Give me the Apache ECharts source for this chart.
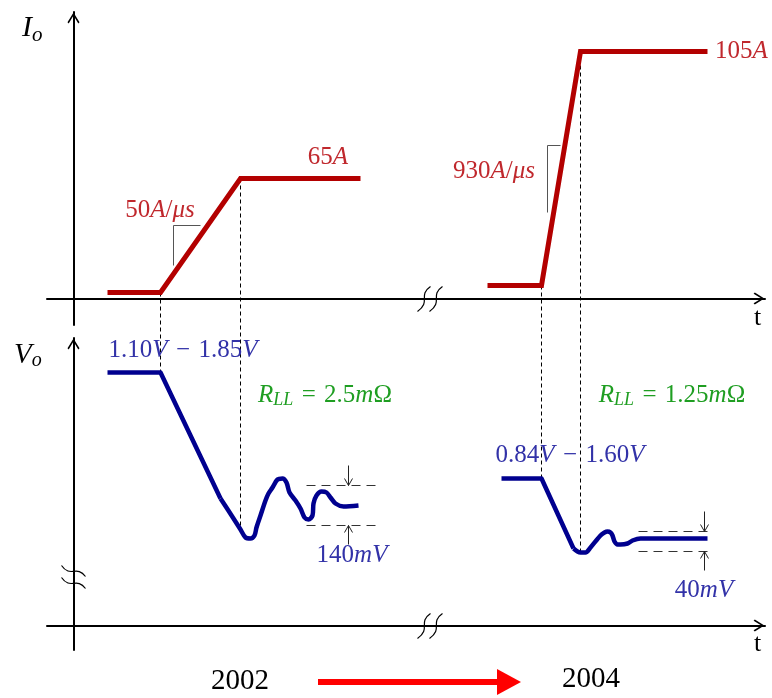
<!DOCTYPE html>
<html><head><meta charset="utf-8">
<script src="https://cdn.jsdelivr.net/npm/echarts@6/dist/echarts.min.js"></script>
<style>html,body{margin:0;padding:0;background:#fff}#c{width:772px;height:698px}</style>
</head><body><div id="c"></div>
<script>
// ---------- data (t = time units measured from the vertical axis; values in drawn scale units) ----------
const io2002T = [34, 87, 167, 287];
const io2002V = [6, 6, 120, 120];
const io2004T = [414, 468, 507, 634];
const io2004V = [13, 13, 247, 247];

const vo2002StepT = [34, 87, 147];
const vo2002StepV = [253, 253, 127];
const vo2002RingT = [147,160,167,172,177,181,183,187,192,195,199,204,209,213,216,222,227,231,235,239,240,243,248,253,257,262,270,285];
const vo2002RingV = [127,107,96,88,87,90,98,110,125,132,138,146,147,143,133,125,117,108,106,110,122,130,134,133,128,122,119,120];

const vo2004StepT = [428, 468, 500];
const vo2004StepV = [147, 147, 77];
const vo2004RingT = [500,504,507,512,517,527,531,534,537,539,541,544,547,554,559,567,580,634];
const vo2004RingV = [77,74,73,73,78,90,93,94,93,90,84,81,81,82,85,87,87,87];

const slope2002T = [127, 100, 100], slope2002V = [73, 73, 33];
const slope2004T = [487, 474, 474], slope2004V = [153, 153, 86];

const band2002T = [233, 307], band2002V = [140, 100];   // 140 mV band
const band2004T = [565, 640], band2004V = [94, 74];     // 40 mV band
const dimArrowT = [275, 631];

const connectorT = [87, 167, 468, 507];
const xBreakT = 357, yBreakV = 48;

const SP = ' \u200A';
const LBL = {
  i65: '{n|65}{i|A}', s50: '{n|50}{i|A}{n|/}{i|μs}', s930: '{n|930}{i|A}{n|/}{i|μs}', i105: '{n|105}{i|A}',
  v02: '{n|1.10}{i|V}{n|' + SP + '−' + SP + '1.85}{i|V}', r02: '{i|R}{s|LL}{n|' + SP + '=' + SP + '2.5}{i|m}{n|Ω}', d02: '{n|140}{i|mV}',
  v04: '{n|0.84}{i|V}{n|' + SP + '−' + SP + '1.60}{i|V}', r04: '{i|R}{s|LL}{n|' + SP + '=' + SP + '1.25}{i|m}{n|Ω}', d04: '{n|40}{i|mV}',
  io: '{i|I}{s|o}', vo: '{i|V}{s|o}', t: '{n|t}', y1: '{n|2002}', y2: '{n|2004}'
};

// ---------- layout ----------
const W = 772, H = 698;
const X_LEFT = 47, X_END = 765, AXIS_X = 73;
const TOP_Y0 = 12, TOP_Y1 = 325, TOP_AXIS = 298;
const BOT_Y0 = 338, BOT_Y1 = 650, BOT_AXIS = 625;
const OFF = BOT_AXIS - TOP_AXIS;
const HALF = 0.5; // keeps 1px rules on pixel centres
const xMin = X_LEFT - AXIS_X - HALF, xMax = X_END - AXIS_X - HALF;

const pair = (T, V) => T.map((t, i) => [t, V[i]]);
const look = (T, V, t) => V[T.indexOf(t)];
const ioAt = t => io2002T.includes(t) ? look(io2002T, io2002V, t) : look(io2004T, io2004V, t);
const voAll = [[vo2002StepT, vo2002StepV], [vo2002RingT, vo2002RingV], [vo2004StepT, vo2004StepV], [vo2004RingT, vo2004RingV]];
const voAt = t => { for (const [T, V] of voAll) if (T.includes(t)) return look(T, V, t); };

const ARROW = 'path://M10,0 L20,16 L18,18 L10,5 L2,18 L0,16 Z';
const axisLine = { show: true, onZero: true, symbol: ['none', ARROW], symbolSize: [12, 11], symbolOffset: [0, -6],
  lineStyle: { color: '#000', width: 2 } };
const hidden = { axisTick: { show: false }, axisLabel: { show: false }, splitLine: { show: false } };

const RED_LINE = '#b30000', BLUE_LINE = '#00008f';
const RED = '#c0282d', BLUE = '#3232a8', GREEN = '#1f9e22';
const F = '"Liberation Serif", "Times New Roman", serif';

const series = [];
// dashed connectors across both panels (overlay grid)
connectorT.forEach(t => series.push({
  type: 'line', xAxisIndex: 2, yAxisIndex: 2, symbol: 'none', silent: true, z: 1,
  data: [[t, ioAt(t) + OFF], [t, voAt(t)]],
  lineStyle: { color: '#000', width: 1, type: [4, 3] }
}));
// slope markers
[[slope2002T, slope2002V], [slope2004T, slope2004V]].forEach(([T, V]) => series.push({
  type: 'line', xAxisIndex: 0, yAxisIndex: 0, symbol: 'none', z: 2, data: pair(T, V),
  lineStyle: { color: '#555', width: 1 }
}));
// Io curves
[[io2002T, io2002V], [io2004T, io2004V]].forEach(([T, V]) => series.push({
  type: 'line', xAxisIndex: 0, yAxisIndex: 0, symbol: 'none', z: 3, data: pair(T, V),
  lineStyle: { color: RED_LINE, width: 5, join: 'miter', cap: 'butt' }
}));
// band lines
[[band2002T, band2002V], [band2004T, band2004V]].forEach(([T, V]) => V.forEach(v => series.push({
  type: 'line', xAxisIndex: 1, yAxisIndex: 1, symbol: 'none', z: 2, data: [[T[0], v], [T[1], v]],
  lineStyle: { color: '#333', width: 1, type: [9, 6] }
})));
// Vo curves
[[vo2002StepT, vo2002StepV, false], [vo2002RingT, vo2002RingV, 0.3], [vo2004StepT, vo2004StepV, false], [vo2004RingT, vo2004RingV, 0.3]]
  .forEach(([T, V, sm]) => series.push({
    type: 'line', xAxisIndex: 1, yAxisIndex: 1, symbol: 'none', z: 3, smooth: sm, data: pair(T, V),
    lineStyle: { color: BLUE_LINE, width: 4.5, join: 'round', cap: 'butt' }
  }));
// dimension arrows
const dimData = [];
[[dimArrowT[0], band2002V], [dimArrowT[1], band2004V]].forEach(([t, V]) => {
  dimData.push([t, V[0] + 20, V[0]]);
  dimData.push([t, V[1] - 19, V[1]]);
});
series.push({
  type: 'custom', xAxisIndex: 1, yAxisIndex: 1, z: 4, data: dimData,
  renderItem: (p, api) => {
    const a = api.coord([api.value(0), api.value(1)]);
    const b = api.coord([api.value(0), api.value(2)]);
    const d = b[1] > a[1] ? 1 : -1;
    return { type: 'group', children: [
      { type: 'line', shape: { x1: a[0], y1: a[1], x2: b[0], y2: b[1] }, style: { stroke: '#222', lineWidth: 1 } },
      { type: 'polyline', shape: { points: [[b[0] - 4, b[1] - d * 7], [b[0], b[1]], [b[0] + 4, b[1] - d * 7]] }, style: { stroke: '#222', lineWidth: 1, fill: null } }
    ] };
  }
});
// axis break marks
function breakRender(kind) {
  return (p, api) => {
    const c = api.coord([api.value(0), api.value(1)]);
    const children = [];
    [-6, 6].forEach(d => {
      let s;
      if (kind === 'x') {
        const x = c[0] + d, y = c[1];
        s = { x1: x - 7, y1: y + 13, cpx1: x + 7, cpy1: y + 3, cpx2: x - 7, cpy2: y - 3, x2: x + 6, y2: y - 12 };
      } else {
        const x = c[0], y = c[1] + d;
        s = { x1: x - 12, y1: y - 6, cpx1: x - 3, cpy1: y + 7, cpx2: x + 3, cpy2: y - 7, x2: x + 12, y2: y + 5 };
      }
      children.push({ type: 'bezierCurve', shape: s, style: { stroke: '#000', lineWidth: 1.2, fill: null } });
    });
    return { type: 'group', children };
  };
}
series.push({ type: 'custom', xAxisIndex: 0, yAxisIndex: 0, z: 5, data: [[xBreakT, 0]], renderItem: breakRender('x') });
series.push({ type: 'custom', xAxisIndex: 1, yAxisIndex: 1, z: 5, data: [[xBreakT, 0]], renderItem: breakRender('x') });
series.push({ type: 'custom', xAxisIndex: 1, yAxisIndex: 1, z: 5, data: [[0, yBreakV]], renderItem: breakRender('y') });

// ---------- text ----------
function rich(color, size, subSize, subPad) {
  return {
    n: { font: `${size}px ${F}`, fill: color },
    i: { font: `italic ${size}px ${F}`, fill: color },
    s: { font: `italic ${subSize}px ${F}`, fill: color, padding: [subPad, 0, 0, 0] }
  };
}
function txt(x, y, text, color, align = 'center', size = 25, subSize = 18, subPad = 11) {
  return { type: 'text', x, y, z: 10, style: { text, rich: rich(color, size, subSize, subPad), fill: color,
    font: `${size}px ${F}`, align, verticalAlign: 'middle' } };
}
const graphic = [
  txt(328, 157, LBL.i65, RED), txt(160, 210, LBL.s50, RED), txt(494, 171, LBL.s930, RED), txt(715, 51, LBL.i105, RED, 'left'),
  txt(183, 350, LBL.v02, BLUE), txt(325, 395, LBL.r02, GREEN), txt(352, 555, LBL.d02, BLUE),
  txt(570, 455, LBL.v04, BLUE), txt(672, 395, LBL.r04, GREEN), txt(704, 590, LBL.d04, BLUE),
  txt(22, 28, LBL.io, '#000', 'left', 30, 21, 14), txt(14, 355, LBL.vo, '#000', 'left', 29, 20, 12),
  txt(754, 318, LBL.t, '#000', 'left', 26), txt(754, 644, LBL.t, '#000', 'left', 26),
  txt(240, 681, LBL.y1, '#000', 'center', 29), txt(591, 679, LBL.y2, '#000', 'center', 29),
  { type: 'rect', shape: { x: 318, y: 679, width: 181, height: 6 }, style: { fill: '#ff0000' } },
  { type: 'polygon', shape: { points: [[497, 669], [521, 682], [497, 695]] }, style: { fill: '#ff0000' } }
];

const chart = echarts.init(document.getElementById('c'), null, { renderer: 'canvas' });
chart.setOption({
  animation: false,
  backgroundColor: '#fff',
  grid: [
    { left: X_LEFT, right: W - X_END, top: TOP_Y0, bottom: H - TOP_Y1 },
    { left: X_LEFT, right: W - X_END, top: BOT_Y0, bottom: H - BOT_Y1 },
    { left: X_LEFT, right: W - X_END, top: TOP_Y0, bottom: H - BOT_Y1 }
  ],
  xAxis: [
    { type: 'value', gridIndex: 0, min: xMin, max: xMax, axisLine, ...hidden },
    { type: 'value', gridIndex: 1, min: xMin, max: xMax, axisLine, ...hidden },
    { type: 'value', gridIndex: 2, min: xMin, max: xMax, show: false }
  ],
  yAxis: [
    { type: 'value', gridIndex: 0, min: -(TOP_Y1 - TOP_AXIS) + HALF, max: TOP_AXIS - TOP_Y0 + HALF, axisLine, ...hidden },
    { type: 'value', gridIndex: 1, min: -(BOT_Y1 - BOT_AXIS) + HALF, max: BOT_AXIS - BOT_Y0 + HALF, axisLine, ...hidden },
    { type: 'value', gridIndex: 2, min: -(BOT_Y1 - BOT_AXIS) + HALF, max: BOT_AXIS - TOP_Y0 + HALF, show: false }
  ],
  series,
  graphic
});
</script></body></html>
